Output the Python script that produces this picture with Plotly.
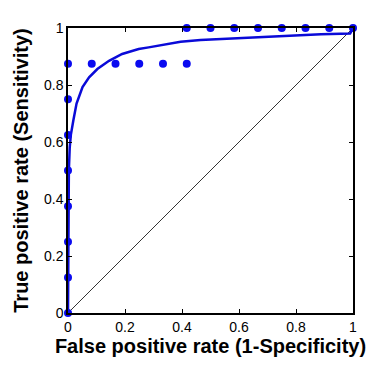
import plotly.graph_objects as go

# Empirical ROC points
fpr_points = [0, 0, 0, 0, 0, 0, 0, 0,
              0.0833, 0.1667, 0.25, 0.3333, 0.4167,
              0.4167, 0.5, 0.5833, 0.6667, 0.75, 0.8333, 0.9167, 1.0]
tpr_points = [0, 0.125, 0.25, 0.375, 0.5, 0.625, 0.75, 0.875,
              0.875, 0.875, 0.875, 0.875, 0.875,
              1, 1, 1, 1, 1, 1, 1, 1]

# Fitted ROC curve
fit_fpr = [0, 0.001, 0.003, 0.006, 0.010, 0.019, 0.030, 0.051, 0.074, 0.103,
           0.144, 0.190, 0.248, 0.283, 0.395, 0.465, 0.709, 0.81, 0.888, 0.99, 1.0]
fit_tpr = [0, 0.30, 0.50, 0.58, 0.625, 0.677, 0.735, 0.793, 0.827, 0.856,
           0.885, 0.909, 0.926, 0.932, 0.952, 0.958, 0.970, 0.974, 0.978, 0.981, 1.0]

# Chance line
chance = [0, 1]

tick_vals = [0, 0.2, 0.4, 0.6, 0.8, 1]
tick_text = ["0", "0.2", "0.4", "0.6", "0.8", "1"]

FONT = "Liberation Sans, Arial"

fig = go.Figure()
fig.add_trace(go.Scatter(x=chance, y=chance, mode="lines",
                         line=dict(color="black", width=0.8), cliponaxis=False,
                         showlegend=False, hoverinfo="skip"))
fig.add_trace(go.Scatter(x=fit_fpr, y=fit_tpr, mode="lines",
                         line=dict(color="#0a0ad8", width=2.5), cliponaxis=False,
                         showlegend=False))
fig.add_trace(go.Scatter(x=fpr_points, y=tpr_points, mode="markers",
                         marker=dict(color="#0a0af0", size=8), cliponaxis=False,
                         showlegend=False))

axis_common = dict(range=[0, 1], tickvals=tick_vals, ticktext=tick_text,
                   showgrid=False, zeroline=False, showline=True, linecolor="black",
                   linewidth=1.5, mirror="ticks", ticks="inside", ticklen=4,
                   tickcolor="black", tickwidth=1,
                   tickprefix="<b>", ticksuffix="</b>",
                   tickfont=dict(family=FONT, size=14, color="black"))

fig.update_layout(
    width=384, height=357,
    margin=dict(l=59, r=39, t=19, b=50),
    paper_bgcolor="white", plot_bgcolor="white",
    xaxis=dict(**axis_common,
               title=dict(text="<b>False positive rate (1-Specificity)</b>",
                          font=dict(family=FONT, size=20, color="black"),
                          standoff=4)),
    yaxis=dict(**axis_common,
               title=dict(text="<b>True positive rate (Sensitivity)</b>",
                          font=dict(family=FONT, size=20, color="black"),
                          standoff=10)),
)

fig.write_html("out.html")
